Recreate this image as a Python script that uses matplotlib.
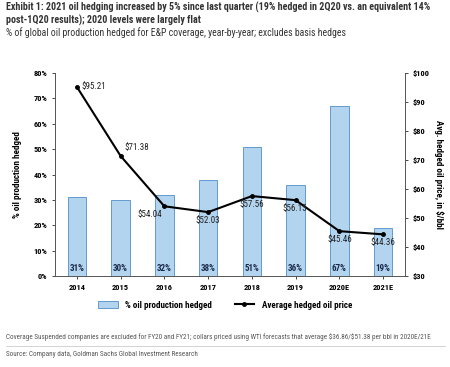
import matplotlib.pyplot as plt
from matplotlib import font_manager

years = ['2014', '2015', '2016', '2017', '2018', '2019', '2020E', '2021E']
pct_hedged = [31, 30, 32, 38, 51, 36, 67, 19]
avg_price = [95.21, 71.38, 54.04, 52.03, 57.56, 56.15, 45.46, 44.36]

names = {f.name for f in font_manager.fontManager.ttflist}
narrow = [n for n in ['Arial Narrow', 'Liberation Sans Narrow', 'Roboto Condensed',
                      'Asap Condensed', 'Barlow Semi Condensed'] if n in names]
plt.rcParams['font.family'] = narrow[:1] + ['DejaVu Sans']

fig = plt.figure(figsize=(4.5, 3.67), dpi=100)
ax = fig.add_axes([55 / 450, 1 - 276 / 367, 350 / 450, 203 / 367])
ax2 = ax.twinx()

x = range(len(years))
ax.bar(x, pct_hedged, width=0.42, color='#b3d4ee', edgecolor='#4f8fc9', linewidth=0.6,
       label='% oil production hedged')
for i, v in enumerate(pct_hedged):
    ax.text(i, 1.2, f'{v}%', ha='center', va='bottom', fontsize=6.5, fontweight='bold', color='#1a2a4a')

ax.set_ylim(0, 80)
ax.set_yticks(range(0, 81, 10))
ax.set_yticklabels([f'{t}%' for t in range(0, 81, 10)])
ax.set_xlim(-0.5, len(years) - 0.5)
ax.set_xticks(list(x))
ax.set_xticklabels(years)
ax.set_ylabel('% oil production hedged', fontsize=6.5, fontweight='bold', labelpad=8)
ax.tick_params(labelsize=6, length=2, width=0.5)
for lab in ax.get_xticklabels() + ax.get_yticklabels():
    lab.set_fontweight('bold')

ax2.plot(list(x), avg_price, color='black', linewidth=1.5, marker='o', markersize=2.5,
         label='Average hedged oil price')
ax2.set_ylim(30, 100)
ax2.set_yticks(range(30, 101, 10))
ax2.set_yticklabels([f'${t}' for t in range(30, 101, 10)])
ax2.set_ylabel('Avg. hedged oil price, in $/bbl', fontsize=6.5, fontweight='bold', rotation=270, labelpad=10)
ax2.tick_params(labelsize=6, length=2, width=0.5)
for lab in ax2.get_yticklabels():
    lab.set_fontweight('bold')

offsets = [(3, 0, 'left', 'center'), (3, 3, 'left', 'bottom'), (-2, -3, 'right', 'top'),
           (0, -3, 'center', 'top'), (0, -3, 'center', 'top'), (-1, -3, 'center', 'top'),
           (0, -3, 'center', 'top'), (0, -3, 'center', 'top')]
for i, v in enumerate(avg_price):
    dx, dy, ha, va = offsets[i]
    ax2.annotate(f'${v:.2f}', (i, v), xytext=(dx, dy), textcoords='offset points',
                 ha=ha, va=va, fontsize=6.5, color='#222222')

for a in (ax, ax2):
    a.spines['top'].set_visible(False)
    for s in ('left', 'right', 'bottom'):
        a.spines[s].set_linewidth(0.6)
        a.spines[s].set_color('#555555')

h1, l1 = ax.get_legend_handles_labels()
h2, l2 = ax2.get_legend_handles_labels()
fig.legend(h1 + h2, l1 + l2, loc='center', bbox_to_anchor=(0.5, 1 - 305 / 367), ncol=2,
           frameon=False, prop={'size': 6.5, 'weight': 'bold'}, handlelength=2.2, columnspacing=2.5)

fig.text(6 / 450, 1 - 14 / 367,
         'Exhibit 1: 2021 oil hedging increased by 5% since last quarter (19% hedged in 2Q20 vs. an equivalent 14%\n'
         'post-1Q20 results); 2020 levels were largely flat',
         fontsize=7.2, fontweight='bold', va='center', ha='left', linespacing=1.2, color='#333333')
fig.text(6 / 450, 1 - 33 / 367,
         '% of global oil production hedged for E&P coverage, year-by-year; excludes basis hedges',
         fontsize=7, va='center', ha='left', color='#333333')
fig.text(6 / 450, 1 - 337 / 367,
         r'Coverage Suspended companies are excluded for FY20 and FY21; collars priced using WTI forecasts '
         r'that average \$36.86/\$51.38 per bbl in 2020E/21E',
         fontsize=5.1, va='center', ha='left', color='#555555')
fig.add_artist(plt.Line2D([6 / 450, 445 / 450], [1 - 346 / 367, 1 - 346 / 367],
                          color='#cccccc', linewidth=0.6))
fig.text(6 / 450, 1 - 355 / 367, 'Source: Company data, Goldman Sachs Global Investment Research',
         fontsize=5.1, va='center', ha='left', color='#555555')

fig.savefig('out.png', dpi=100)
